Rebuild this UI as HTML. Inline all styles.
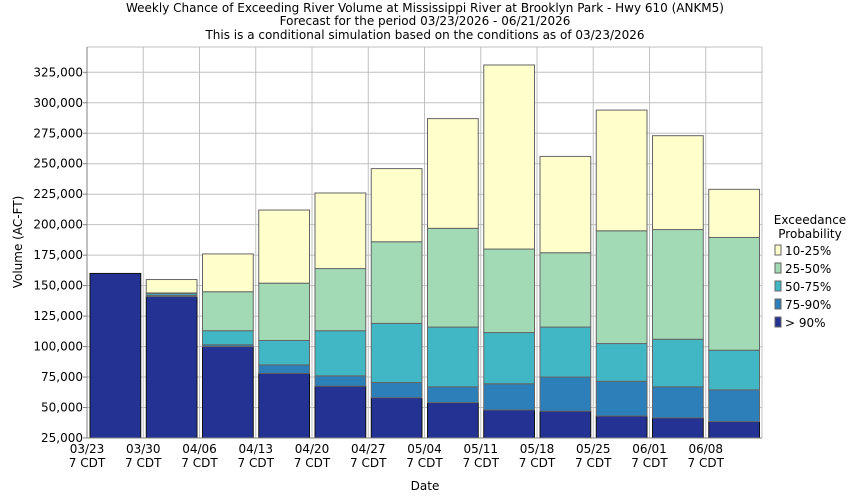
<!DOCTYPE html>
<html><head><meta charset="utf-8"><style>
body{margin:0;background:#fff;font-family:"DejaVu Sans","Liberation Sans",sans-serif;}
svg text{font-family:"DejaVu Sans","Liberation Sans",sans-serif;fill:#000;}
</style></head><body>
<svg id="chart" width="850" height="500" xmlns="http://www.w3.org/2000/svg">
<text x="425" y="12" font-size="12" text-anchor="middle">Weekly Chance of Exceeding River Volume at Mississippi River at Brooklyn Park - Hwy 610 (ANKM5)</text>
<text x="425" y="25" font-size="12" text-anchor="middle">Forecast for the period 03/23/2026 - 06/21/2026</text>
<text x="425" y="39" font-size="12" text-anchor="middle">This is a conditional simulation based on the conditions as of 03/23/2026</text>
<g id="grid"></g><g id="bars"></g><g id="axes"></g>
<text x="425" y="490" font-size="12" text-anchor="middle">Date</text>
<text transform="translate(22,242) rotate(-90)" font-size="12" text-anchor="middle">Volume (AC-FT)</text>
<g id="legend">
<text x="810" y="224" font-size="12" text-anchor="middle">Exceedance</text>
<text x="810" y="238" font-size="12" text-anchor="middle">Probability</text>
</g>
</svg>
<script>
const categories=["03/23","03/30","04/06","04/13","04/20","04/27","05/04","05/11","05/18","05/25","06/01","06/08"];
const p90=[160000,141000,100000,78000,67500,58000,54000,48000,47000,43000,41500,38500];
const p75=[160000,142000,101500,85000,76000,70500,67000,69500,75000,71500,67000,64500];
const p50=[160000,143500,113000,105000,113000,119000,116000,111500,116000,102500,106000,97000];
const p25=[160000,144000,145000,152000,164000,186000,197000,180000,177000,195000,196000,189500];
const p10=[160000,155000,176000,212000,226000,246000,287000,331000,256000,294000,273000,229000];
const yTicks=[25000,50000,75000,100000,125000,150000,175000,200000,225000,250000,275000,300000,325000];
const series=[p90,p75,p50,p25,p10];
const colors=["#243393","#2c7fb8","#41b6c4","#a1dab4","#ffffcc"];
const names=["> 90%","75-90%","50-75%","25-50%","10-25%"];
const NS="http://www.w3.org/2000/svg";
const L=87,R=762,T=47,B=438;
const y=v=>B-(v-25000)*(B-72.3)/300000;
const slot=(R-L)/categories.length;
const x=i=>L+i*slot;
function mk(tag,attrs,parent){const e=document.createElementNS(NS,tag);for(const k in attrs)e.setAttribute(k,attrs[k]);parent.appendChild(e);return e;}
const grid=document.getElementById('grid'),bars=document.getElementById('bars'),axes=document.getElementById('axes'),legend=document.getElementById('legend');
yTicks.forEach(t=>{
 const g=mk('line',{x1:L,x2:R,y1:y(t),y2:y(t),stroke:'#c0c0c0'},grid);
 
 
 mk('line',{x1:L-4,x2:L,y1:y(t),y2:y(t),stroke:'#808080'},axes);
 const tx=mk('text',{x:L-4,y:y(t)+4,'font-size':12,'text-anchor':'end'},axes);
 tx.textContent=t.toLocaleString('en-US');
 
 
});
categories.forEach((c,i)=>{
 const g=mk('line',{x1:x(i),x2:x(i),y1:T,y2:B,stroke:'#c0c0c0'},grid);
 
 
 const t1=mk('text',{x:x(i),y:B+15,'font-size':12,'text-anchor':'middle'},axes);
 t1.textContent=c;
 
 
 const t2=mk('text',{x:x(i),y:B+29,'font-size':12,'text-anchor':'middle'},axes);
 t2.textContent='7 CDT';
 
 
 let base=25000;
 series.forEach((s,k)=>{
  const top=s[i];
  if(top>base){
   const r=mk('rect',{x:x(i)+3,y:y(top),width:slot-5.5,height:y(base)-y(top),fill:colors[k],stroke:k==0?'#111':'#666','stroke-width':1},bars);
   
   
  }
  base=Math.max(base,top);
 });
});
mk('line',{x1:L,x2:R,y1:T,y2:T,stroke:'#c0c0c0'},grid);
mk('line',{x1:L,x2:L,y1:T,y2:B,stroke:'#808080'},axes);
mk('line',{x1:L,x2:R,y1:B,y2:B,stroke:'#808080'},axes);
mk('line',{x1:R,x2:R,y1:T,y2:B,stroke:'#c0c0c0'},axes);
[4,3,2,1,0].forEach((k,j)=>{
 const yy=245+j*18;
 const r=mk('rect',{x:775,y:yy,width:6,height:10,fill:colors[k],stroke:'#666'},legend);
 
 
 const t=mk('text',{x:785,y:yy+10,'font-size':12},legend);
 t.textContent=names[k];
 
 
});
</script>
</body></html>
